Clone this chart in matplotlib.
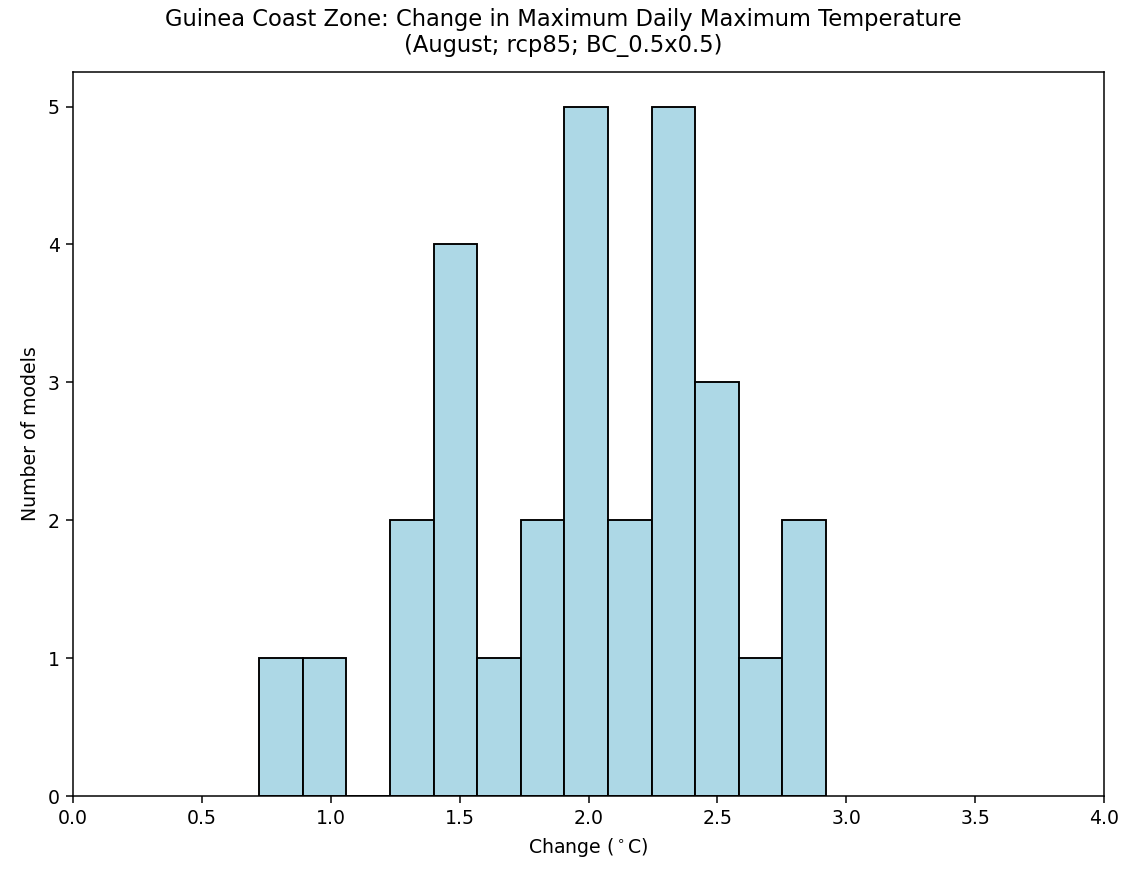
import numpy as np
import matplotlib
matplotlib.use("Agg")
import matplotlib.pyplot as plt

# histogram of model changes
bin_lo = 0.722
bin_hi = 2.921
counts = [1, 1, 0, 2, 4, 1, 2, 5, 2, 5, 3, 1, 2]

edges = np.linspace(bin_lo, bin_hi, len(counts) + 1)
centers = (edges[:-1] + edges[1:]) / 2

dpi = 136
fig = plt.figure(figsize=(1127 / dpi, 869 / dpi), dpi=dpi)
ax = fig.add_axes([0.0648, 0.084, 0.9148, 0.833])
ax.hist(centers, bins=edges, weights=counts, color='lightblue', edgecolor='black')
ax.set_xlim(0, 4)
ax.set_xticks(np.arange(0, 4.01, 0.5))
ax.set_xlabel('Change ($^\\circ$C)')
ax.set_ylabel('Number of models')
fig.suptitle('Guinea Coast Zone: Change in Maximum Daily Maximum Temperature\n(August; rcp85; BC_0.5x0.5)',
             y=0.991, fontsize=12)
fig.savefig('out.png', dpi=dpi)
